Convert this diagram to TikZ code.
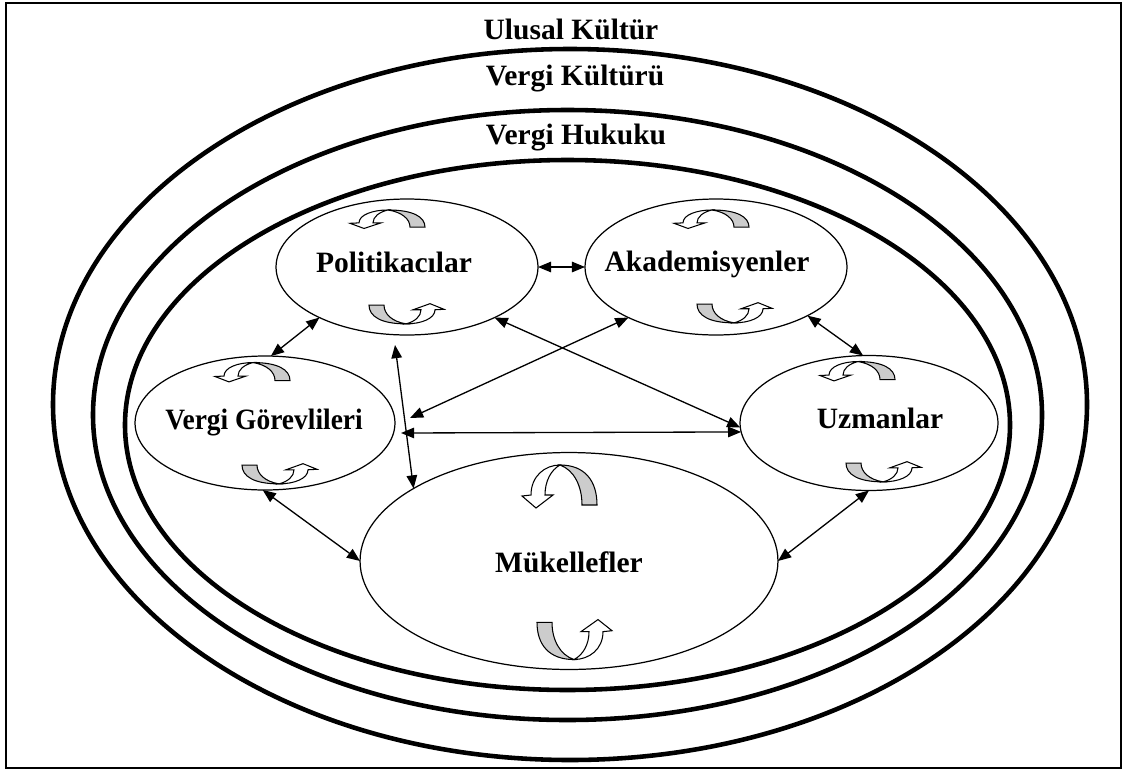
\documentclass[tikz,border=0pt]{standalone}
\usepackage{fontspec}
\setmainfont{Liberation Serif}
\usetikzlibrary{arrows.meta,shapes.geometric}
\definecolor{cgray}{gray}{0.8}
\tikzset{
  thickring/.style={line width=2.6pt},
  actor/.style={draw, ellipse, line width=0.7pt, inner sep=0pt, outer sep=0pt},
  lbl/.style={font=\fontsize{16.8}{20}\selectfont\bfseries, anchor=base, inner sep=0pt},
  dar/.style={line width=0.75pt, {Triangle[length=7.5pt,width=6pt]}-{Triangle[length=7.5pt,width=6pt]}},
  curv/.pic={
    \filldraw[fill=cgray, draw=black, line width=0.6pt]
      (0,-21) .. controls (25,-21) and (37,-5) .. (37,19) -- (22,19)
      .. controls (22,0) and (14,-16) .. (0,-21) -- cycle;
    \filldraw[fill=white, draw=black, line width=0.6pt]
      (0,-21) .. controls (-15,-21) and (-29,-10) .. (-29,9) -- (-38,10) -- (-24,22)
      -- (-7,9) -- (-15,9) .. controls (-15,-5) and (-9,-16) .. (0,-21) -- cycle;
  }
}
\begin{document}
\begin{tikzpicture}[x=0.02cm,y=-0.02cm]
\useasboundingbox (0,0) rectangle (1125,771);
\fill[white] (0,0) rectangle (1125,771);
\draw[line width=0.9pt] (6,3) rectangle (1121,768);

% nested context ellipses
\draw[thickring] (570,404.5) ellipse [x radius=517, y radius=355.5];
\draw[thickring] (567.5,415) ellipse [x radius=474.5, y radius=305];
\draw[thickring] (567.5,425) ellipse [x radius=442.5, y radius=265];

\node[lbl] (ulusal) at (571,39) {Ulusal Kültür};
\node[lbl] (kultur) at (575,85) {Vergi Kültürü};
\node[lbl] (hukuk) at (576,144) {Vergi Hukuku};

% actors
\node[actor, minimum width=5.24cm, minimum height=2.72cm] (P) at (407,267) {};
\node[actor, minimum width=5.24cm, minimum height=2.72cm] (A) at (716,267) {};
\node[actor, minimum width=5.2cm, minimum height=2.68cm] (V) at (265,423) {};
\node[actor, minimum width=5.16cm, minimum height=2.7cm] (U) at (869,423) {};
\node[actor, minimum width=8.36cm, minimum height=4.34cm] (M) at (569,561) {};

\node[lbl] (Pt) at (394,272) {Politikacılar};
\node[lbl] (At) at (707,271) {Akademisyenler};
\node[lbl, xscale=0.93] (Vt) at (264,429) {Vergi Görevlileri};
\node[lbl] (Ut) at (880,428) {Uzmanlar};
\node[lbl] (Mt) at (569,572) {Mükellefler};

% curved self arrows
\pic[yscale=0.43] at (388,219) {curv};
\pic[rotate=180, yscale=0.47] at (406,314) {curv};
\pic[yscale=0.43] at (712,219) {curv};
\pic[rotate=180, yscale=0.47] at (734,313) {curv};
\pic[yscale=0.45] at (253,372) {curv};
\pic[rotate=180, yscale=0.47] at (279,474) {curv};
\pic[yscale=0.45] at (858,371) {curv};
\pic[rotate=180, yscale=0.47] at (883,472) {curv};
\pic at (560,486) {curv};
\pic[rotate=180, yscale=0.93] at (574,640) {curv};

% connectors
\coordinate (pm) at (395,345);
\coordinate (va) at (410,418);
\coordinate (vu) at (401,433);
\draw[dar] (P.east) -- (A.west);
\draw[dar] (P.210) -- (V.85);
\draw[dar] (A.332) -- (U.95);
\draw[dar] (pm) -- (M.155);
\draw[dar] (P.330) -- (U.182);
\draw[dar] (A.210) -- (va);
\draw[dar] (vu) -- (U.184);
\draw[dar] (V.268) -- (M.west);
\draw[dar] (U.south) -- (M.east);
\end{tikzpicture}
\end{document}
